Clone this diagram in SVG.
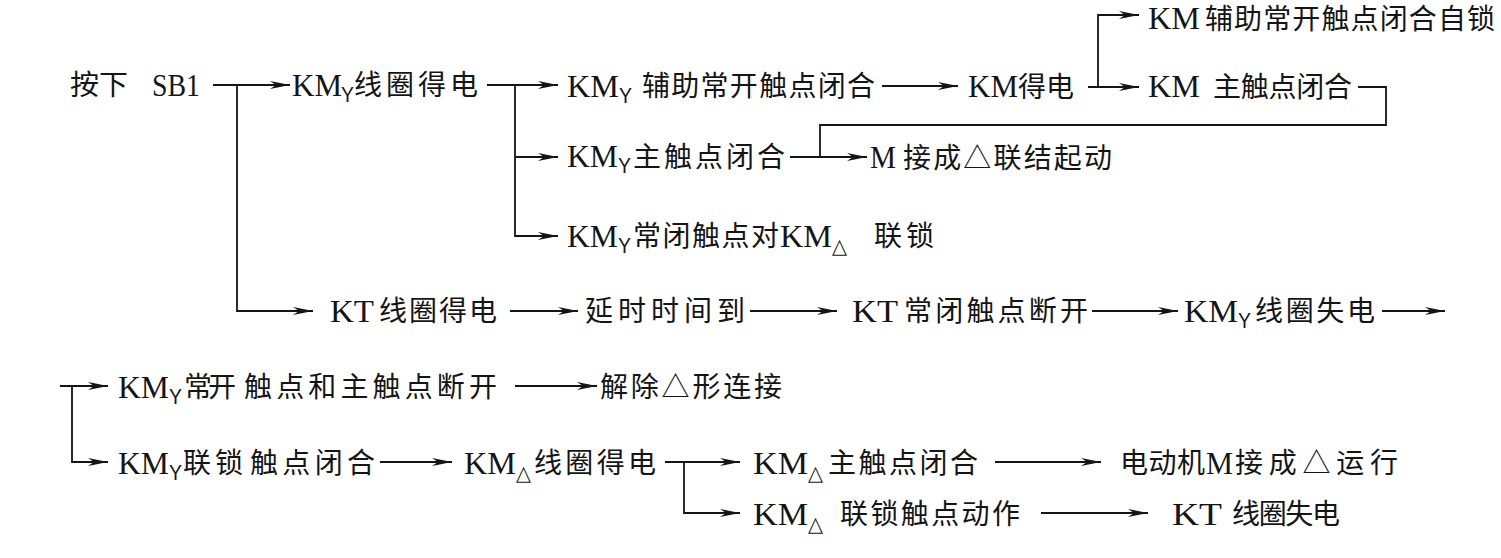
<svg xmlns="http://www.w3.org/2000/svg" width="1501" height="558" viewBox="0 0 1501 558">
<style>
.l{font-family:"Liberation Serif","Noto Sans CJK SC",serif;font-size:31px;fill:#151515}
.c{font-family:"Noto Sans CJK SC","Liberation Serif",serif;font-size:28px;fill:#151515}
.y{font-family:"Liberation Sans","DejaVu Sans",sans-serif;font-size:22px;fill:#151515}
.d{font-family:"DejaVu Sans","Noto Sans CJK SC",sans-serif;font-size:21px;font-weight:bold;fill:#151515}
.w{fill:none;stroke:#151515;stroke-width:1.8}
</style>
<defs>
<marker id="ah" markerUnits="userSpaceOnUse" markerWidth="22" markerHeight="10" refX="20" refY="4.5" orient="auto" viewBox="0 0 22 10">
<path d="M0,0.5 L20,4.5 L0,8.5 L6,4.5 Z" fill="#151515"/>
</marker>
</defs>
<rect width="1501" height="558" fill="#ffffff"/>

<g id="connectors">
<path class="w" d="M213,85 H290" marker-end="url(#ah)"/>
<path class="w" d="M237,85 V311 H313" marker-end="url(#ah)"/>
<path class="w" d="M487,85 H558" marker-end="url(#ah)"/>
<path class="w" d="M515,85 V236 H558" marker-end="url(#ah)"/>
<path class="w" d="M515,157 H558" marker-end="url(#ah)"/>
<path class="w" d="M882,86 H958" marker-end="url(#ah)"/>
<path class="w" d="M1088,87 H1139" marker-end="url(#ah)"/>
<path class="w" d="M1098,87 V15 H1139" marker-end="url(#ah)"/>
<path class="w" d="M1358,87 H1386 V125 H820 V157"/>
<path class="w" d="M790,157 H867" marker-end="url(#ah)"/>
<path class="w" d="M510,311 H578" marker-end="url(#ah)"/>
<path class="w" d="M750,311 H837" marker-end="url(#ah)"/>
<path class="w" d="M1092,311 H1178" marker-end="url(#ah)"/>
<path class="w" d="M1382,311 H1445" marker-end="url(#ah)"/>
<path class="w" d="M60,386 H108" marker-end="url(#ah)"/>
<path class="w" d="M72,386 V462 H108" marker-end="url(#ah)"/>
<path class="w" d="M515,386 H597" marker-end="url(#ah)"/>
<path class="w" d="M380,462 H452" marker-end="url(#ah)"/>
<path class="w" d="M665,462 H740" marker-end="url(#ah)"/>
<path class="w" d="M684,462 V513 H740" marker-end="url(#ah)"/>
<path class="w" d="M995,462 H1101" marker-end="url(#ah)"/>
<path class="w" d="M1041,513 H1148" marker-end="url(#ah)"/>
</g>

<g id="n1">
<text class="c" x="70" y="95" textLength="58" lengthAdjust="spacingAndGlyphs">按下</text>
<text class="l" x="152" y="96" textLength="48" lengthAdjust="spacingAndGlyphs">SB1</text>
</g>
<g id="n2">
<text class="l" x="292" y="96" textLength="50" lengthAdjust="spacingAndGlyphs">KM</text>
<text class="y" x="341" y="102" textLength="13" lengthAdjust="spacingAndGlyphs">Y</text>
<text class="c" x="354" y="95" textLength="124" lengthAdjust="spacing">线圈得电</text>
</g>
<g id="n3">
<text class="l" x="567" y="97" textLength="52" lengthAdjust="spacingAndGlyphs">KM</text>
<text class="y" x="619" y="103" textLength="13" lengthAdjust="spacingAndGlyphs">Y</text>
<text class="c" x="642" y="96" textLength="233" lengthAdjust="spacing">辅助常开触点闭合</text>
</g>
<g id="n4">
<text class="l" x="968" y="97" textLength="50" lengthAdjust="spacingAndGlyphs">KM</text>
<text class="c" x="1018" y="97" textLength="56" lengthAdjust="spacing">得电</text>
</g>
<g id="n5">
<text class="l" x="1148" y="29" textLength="52" lengthAdjust="spacingAndGlyphs">KM</text>
<text class="c" x="1205" y="29" textLength="290" lengthAdjust="spacing">辅助常开触点闭合自锁</text>
</g>
<g id="n6">
<text class="l" x="1148" y="97" textLength="52" lengthAdjust="spacingAndGlyphs">KM</text>
<text class="c" x="1213" y="97" textLength="139" lengthAdjust="spacing">主触点闭合</text>
</g>
<g id="n7">
<text class="l" x="567" y="167" textLength="51" lengthAdjust="spacingAndGlyphs">KM</text>
<text class="y" x="618" y="173" textLength="13" lengthAdjust="spacingAndGlyphs">Y</text>
<text class="c" x="633" y="167" textLength="152" lengthAdjust="spacing">主触点闭合</text>
</g>
<g id="n8">
<text class="l" x="870" y="168" textLength="26" lengthAdjust="spacingAndGlyphs">M</text>
<text class="c" x="903" y="168" textLength="209" lengthAdjust="spacing">接成△联结起动</text>
</g>
<g id="n9">
<text class="l" x="567" y="247" textLength="51" lengthAdjust="spacingAndGlyphs">KM</text>
<text class="y" x="618" y="253" textLength="13" lengthAdjust="spacingAndGlyphs">Y</text>
<text class="c" x="633" y="246" textLength="146" lengthAdjust="spacing">常闭触点对</text>
<text class="l" x="780" y="247" textLength="52" lengthAdjust="spacingAndGlyphs">KM</text>
<text class="d" x="832" y="253" textLength="15" lengthAdjust="spacingAndGlyphs">△</text>
<text class="c" x="874" y="246" textLength="60" lengthAdjust="spacing">联锁</text>
</g>
<g id="n10">
<text class="l" x="330" y="322" textLength="44" lengthAdjust="spacingAndGlyphs">KT</text>
<text class="c" x="379" y="321" textLength="118" lengthAdjust="spacing">线圈得电</text>
</g>
<g id="n11">
<text class="c" x="585" y="321" textLength="160" lengthAdjust="spacing">延时时间到</text>
</g>
<g id="n12">
<text class="l" x="852" y="322" textLength="46" lengthAdjust="spacingAndGlyphs">KT</text>
<text class="c" x="904" y="321" textLength="184" lengthAdjust="spacing">常闭触点断开</text>
</g>
<g id="n13">
<text class="l" x="1184" y="322" textLength="54" lengthAdjust="spacingAndGlyphs">KM</text>
<text class="y" x="1238" y="328" textLength="13" lengthAdjust="spacingAndGlyphs">Y</text>
<text class="c" x="1255" y="321" textLength="120" lengthAdjust="spacing">线圈失电</text>
</g>
<g id="n14">
<text class="l" x="118" y="398" textLength="51" lengthAdjust="spacingAndGlyphs">KM</text>
<text class="y" x="169" y="404" textLength="13" lengthAdjust="spacingAndGlyphs">Y</text>
<text class="c" x="184" y="397" textLength="52" lengthAdjust="spacing">常开</text>
<text class="c" x="244" y="397" textLength="253" lengthAdjust="spacing">触点和主触点断开</text>
</g>
<g id="n15">
<text class="c" x="600" y="397" textLength="182" lengthAdjust="spacing">解除△形连接</text>
</g>
<g id="n16">
<text class="l" x="118" y="474" textLength="51" lengthAdjust="spacingAndGlyphs">KM</text>
<text class="y" x="169" y="480" textLength="13" lengthAdjust="spacingAndGlyphs">Y</text>
<text class="c" x="183" y="473" textLength="60" lengthAdjust="spacing">联锁</text>
<text class="c" x="250" y="473" textLength="125" lengthAdjust="spacing">触点闭合</text>
</g>
<g id="n17">
<text class="l" x="464" y="474" textLength="52" lengthAdjust="spacingAndGlyphs">KM</text>
<text class="d" x="516" y="480" textLength="15" lengthAdjust="spacingAndGlyphs">△</text>
<text class="c" x="534" y="473" textLength="122" lengthAdjust="spacing">线圈得电</text>
</g>
<g id="n18">
<text class="l" x="753" y="474" textLength="55" lengthAdjust="spacingAndGlyphs">KM</text>
<text class="d" x="808" y="480" textLength="15" lengthAdjust="spacingAndGlyphs">△</text>
<text class="c" x="828" y="473" textLength="150" lengthAdjust="spacing">主触点闭合</text>
</g>
<g id="n19">
<text class="c" x="1120" y="473" textLength="85" lengthAdjust="spacing">电动机</text>
<text class="l" x="1206" y="474" textLength="27" lengthAdjust="spacingAndGlyphs">M</text>
<text class="c" x="1235" y="473" textLength="163" lengthAdjust="spacing">接成△运行</text>
</g>
<g id="n20">
<text class="l" x="753" y="525" textLength="55" lengthAdjust="spacingAndGlyphs">KM</text>
<text class="d" x="808" y="531" textLength="15" lengthAdjust="spacingAndGlyphs">△</text>
<text class="c" x="840" y="524" textLength="180" lengthAdjust="spacing">联锁触点动作</text>
</g>
<g id="n21">
<text class="l" x="1172" y="525" textLength="50" lengthAdjust="spacingAndGlyphs">KT</text>
<text class="c" x="1232" y="524" textLength="108" lengthAdjust="spacing">线圈失电</text>
</g>
</svg>
